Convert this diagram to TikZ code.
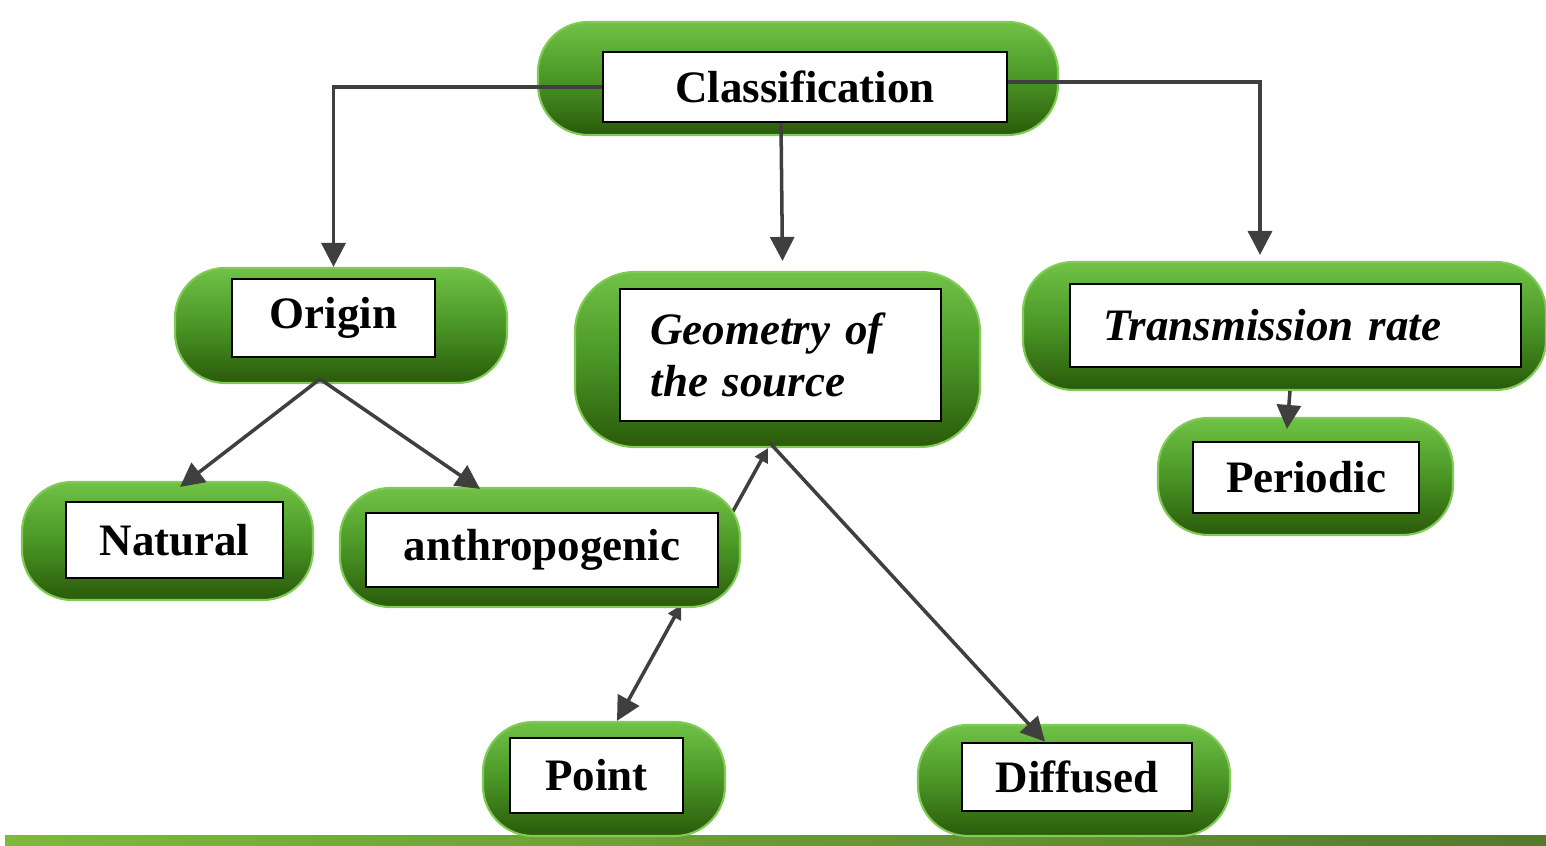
\documentclass[tikz,border=0pt]{standalone}
\usepackage{fontspec}
\setmainfont{Liberation Serif}
\usepackage{tikz}
\usetikzlibrary{arrows.meta,calc}

\definecolor{pilltop}{HTML}{70C246}
\definecolor{pillmid}{HTML}{4A9626}
\definecolor{pillbot}{HTML}{2A5A0A}
\definecolor{pilledge}{HTML}{7FCB55}
\definecolor{linkgray}{HTML}{3F3F3F}
\definecolor{barleft}{HTML}{7DB93B}
\definecolor{barright}{HTML}{557A2B}

\begin{document}
\begin{tikzpicture}
		\tikzstyle{pill}=[rounded corners=0.5cm, top color=pilltop, bottom color=pillbot, middle color=pillmid, draw=pilledge, line width=0.6pt];
		\tikzstyle{box}=[draw=black, line width=0.8pt, fill=white, inner sep=0pt, font=\fontsize{12.8}{14.8}\selectfont\bfseries];
		\tikzstyle{arr}=[draw=linkgray, line width=1pt, -{Triangle[width=0.24cm,length=0.24cm]}];
		\tikzstyle{small tip}=[{Triangle[width=0.14cm,length=0.14cm]}-];

		\useasboundingbox (0,0) rectangle (15.46,8.46);
		\fill[left color=barleft, right color=barright] (0.05,0) rectangle (15.46,0.10);

		\node[pill, minimum width=5.20cm, minimum height=1.13cm] (pCls) at (7.98,7.675) {};
		\node[pill, minimum width=3.32cm, minimum height=1.15cm] (pOrigin) at (3.41,5.205) {};
		\node[pill, minimum width=4.05cm, minimum height=1.75cm, rounded corners=0.6cm] (pGeo) at (7.775,4.865) {};
		\node[pill, minimum width=5.23cm, minimum height=1.28cm] (pTrans) at (12.845,5.20) {};
		\node[pill, minimum width=2.95cm, minimum height=1.17cm] (pPer) at (13.055,3.695) {};
		\node[pill, minimum width=2.91cm, minimum height=1.18cm] (pNat) at (1.675,3.05) {};
		\node[pill, minimum width=2.42cm, minimum height=1.14cm] (pPoint) at (6.04,0.67) {};
		\node[pill, minimum width=3.12cm, minimum height=1.11cm] (pDiff) at (10.74,0.655) {};

		\coordinate (gs) at ([xshift=-0.095cm]pGeo.south);
		\coordinate (pt) at ([xshift=0.13cm]pPoint.north);
		\draw[arr, small tip] (gs) -- ($(gs)!0.247!(pt)$);
		\draw[arr, {Triangle[width=0.14cm,length=0.14cm]}-{Triangle[width=0.24cm,length=0.24cm]}] ($(gs)!0.575!(pt)$) -- (pt);

		\node[pill, minimum width=4.00cm, minimum height=1.19cm] (pAnth) at (5.40,2.985) {};

		\node[box, minimum width=4.04cm, minimum height=0.70cm] (cls) at (8.05,7.59) {Classification};
		\node[box, minimum width=2.03cm, minimum height=0.78cm] (origin) at (3.335,5.28) {Origin};
		\node[box, minimum width=3.21cm, minimum height=1.32cm, text width=2.6cm, align=left, font=\fontsize{12.8}{14.8}\selectfont\bfseries\itshape] (geo) at (7.805,4.91) {Geometry of\\the source};
		\node[box, minimum width=4.51cm, minimum height=0.83cm, text width=3.85cm, align=left, font=\fontsize{12.8}{14.8}\selectfont\bfseries\itshape] (trans) at (12.955,5.205) {Transmission rate};
		\node[box, minimum width=2.26cm, minimum height=0.71cm] (per) at (13.06,3.685) {Periodic};
		\node[box, minimum width=2.17cm, minimum height=0.76cm] (nat) at (1.745,3.06) {Natural};
		\node[box, minimum width=3.52cm, minimum height=0.74cm] (anth) at (5.42,2.96) {anthropogenic};
		\node[box, minimum width=1.73cm, minimum height=0.75cm] (point) at (5.965,0.705) {Point};
		\node[box, minimum width=2.30cm, minimum height=0.68cm] (diff) at (10.77,0.69) {Diffused};

		\draw[arr] (cls.west) -| (origin |- pOrigin.north);
		\draw[arr] ([xshift=-0.24cm]cls.south) -- ([xshift=0.05cm,yshift=0.1cm]pGeo.north);
		\draw[arr] ([yshift=0.05cm]cls.east) -| ([xshift=-0.245cm,yshift=0.06cm]pTrans.north);

		\coordinate (os) at ([xshift=-0.21cm,yshift=0.05cm]pOrigin.south);
		\draw[arr] (os) -- ([xshift=0.125cm,yshift=-0.06cm]pNat.north);
		\draw[arr] (os) -- ([xshift=-0.6cm,yshift=-0.02cm]pAnth.north);

		\draw[arr] ([xshift=-0.075cm,yshift=0.05cm]pGeo.south) -- ([xshift=-0.32cm]diff.north);
		\draw[arr] ([xshift=0.055cm]pTrans.south) -- ([xshift=-0.185cm,yshift=-0.12cm]pPer.north);
	\end{tikzpicture}
\end{document}
